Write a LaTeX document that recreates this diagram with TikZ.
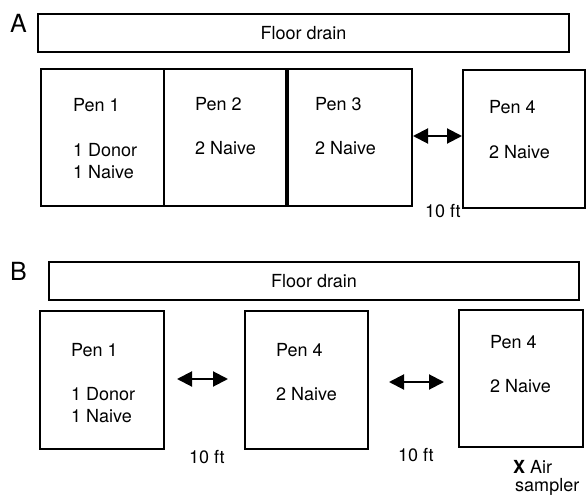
\documentclass[tikz,border=0pt]{standalone}
\usepackage{fontspec}
\setmainfont{TeX Gyre Heros}
\usetikzlibrary{arrows.meta}
\tikzset{
  box/.style={draw=black, line width=2bp, inner sep=0pt, fill=none},
  lbl/.style={anchor=base west, inner sep=0pt, font=\fontsize{18bp}{21bp}\selectfont},
  panel/.style={anchor=base west, inner sep=0pt, font=\fontsize{25bp}{28bp}\selectfont},
  dist/.style={line width=2bp, {Triangle[length=15bp,width=15bp]}-{Triangle[length=15bp,width=15bp]}}
}
\begin{document}
\begin{tikzpicture}[x=1bp,y=-1bp]
\useasboundingbox (0,0) rectangle (586,496);
% ---------- Panel A ----------
\node[panel] (labA) at (10,33) {A};
\node[box, minimum width=531bp, minimum height=38bp, font=\fontsize{18bp}{21bp}\selectfont] (drainA) at (303.5,33) {Floor drain};
\node[box, minimum width=123bp, minimum height=137bp] (pa1) at (102.5,137.5) {};
\node[box, minimum width=122bp, minimum height=137bp] (pa2) at (225,137.5) {};
\node[box, minimum width=124bp, minimum height=137bp] (pa3) at (350,137.5) {};
\node[box, minimum width=122bp, minimum height=138bp] (pa4) at (524,139) {};
\node[lbl] (ta1a) at (73,112) {Pen 1};
\node[lbl] (ta1b) at (73,157) {1 Donor};
\node[lbl] (ta1c) at (73,179) {1 Naive};
\node[lbl] (ta2a) at (195,111) {Pen 2};
\node[lbl] (ta2b) at (195,155) {2 Naive};
\node[lbl] (ta3a) at (315,111) {Pen 3};
\node[lbl] (ta3b) at (315,155) {2 Naive};
\node[lbl] (ta4a) at (489,114) {Pen 4};
\node[lbl] (ta4b) at (489,159) {2 Naive};
\node[lbl] (ftA) at (425,218) {10 ft};
\draw[dist] (pa3.east |- 0,136) -- (pa4.west |- 0,136);
% ---------- Panel B ----------
\node[panel] (labB) at (10,280) {B};
\node[box, minimum width=530bp, minimum height=38bp, font=\fontsize{18bp}{21bp}\selectfont] (drainB) at (314,281) {Floor drain};
\node[box, minimum width=124bp, minimum height=138bp] (pb1) at (102,380) {};
\node[box, minimum width=123bp, minimum height=138bp] (pb2) at (306.5,380) {};
\node[box, minimum width=124bp, minimum height=137bp] (pb3) at (521,378.5) {};
\node[lbl] (tb1a) at (71,356) {Pen 1};
\node[lbl] (tb1b) at (71,400) {1 Donor};
\node[lbl] (tb1c) at (71,422) {1 Naive};
\node[lbl] (tb2a) at (276,356) {Pen 4};
\node[lbl] (tb2b) at (276,400) {2 Naive};
\node[lbl] (tb3a) at (490,348) {Pen 4};
\node[lbl] (tb3b) at (490,392) {2 Naive};
\node[lbl] (ftB1) at (189,463) {10 ft};
\node[lbl] (ftB2) at (398,461) {10 ft};
\node[lbl] (air1) at (513,473) {\textbf{X} Air};
\node[lbl] (air2) at (515,491.5) {sampler};
\coordinate (b1s) at (177,379);
\coordinate (b1e) at (228,379);
\coordinate (b2s) at (389,382);
\coordinate (b2e) at (444,382);
\draw[dist] (b1s) -- (b1e);
\draw[dist] (b2s) -- (b2e);
\end{tikzpicture}
\end{document}
